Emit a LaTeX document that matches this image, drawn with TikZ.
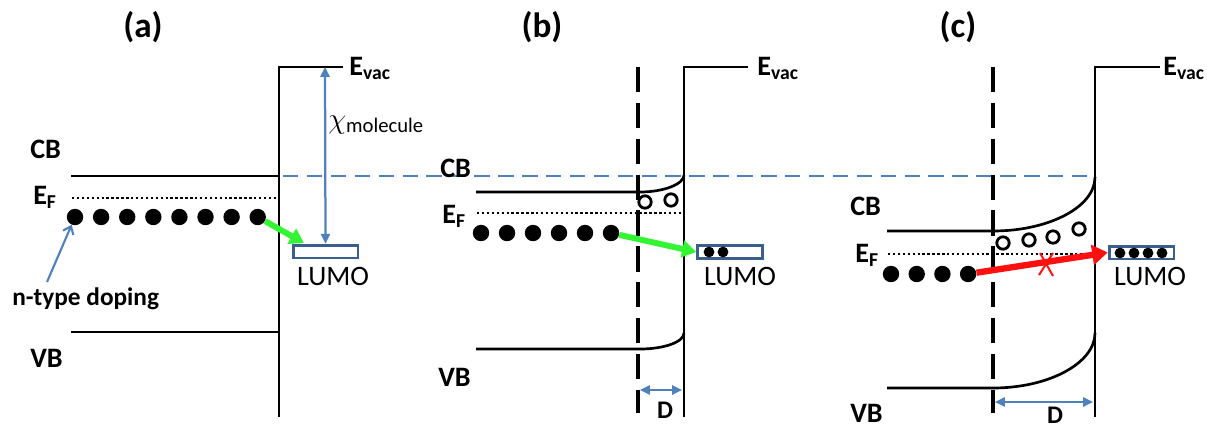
\documentclass[tikz,border=0pt]{standalone}
\usepackage{fontspec}
\setmainfont{Carlito}
\usepackage{tikz}
\usetikzlibrary{arrows.meta,positioning,calc}
\definecolor{BandBlue}{HTML}{4F81BD}
\definecolor{LumoBlue}{HTML}{3A5F8E}
\definecolor{HopGreen}{HTML}{33F533}
\definecolor{BlockRed}{HTML}{FF1010}

\begin{document}
\begin{tikzpicture}[x=0.025cm,y=-0.025cm,
    lbl/.style={font=\fontsize{20}{22}\selectfont\bfseries,inner sep=0pt,anchor=base west},
    ttl/.style={font=\fontsize{25}{28}\selectfont\bfseries,inner sep=0pt,anchor=base},
    lumotxt/.style={font=\fontsize{20}{22}\selectfont,inner sep=0pt,anchor=base},
    band/.style={line width=1.9pt},
    depl/.style={line width=2.3pt,dash pattern=on 18pt off 7.5pt},
    fermi/.style={line width=2pt,dash pattern=on 1.7pt off 1.8pt},
    elec/.style={circle,fill=black,minimum size=4.1mm,inner sep=0pt},
    lelec/.style={circle,fill=black,minimum size=2.7mm,inner sep=0pt},
    hole/.style={circle,draw,line width=2pt,minimum size=3.1mm,inner sep=0pt},
    lumo/.style={draw=LumoBlue,line width=2pt,fill=white,minimum width=16.2mm,minimum height=3.2mm,inner sep=0pt},
    blu/.style={BandBlue,line width=1.6pt,>={Triangle[length=7pt,width=6.5pt]},<->},
    hop/.style={HopGreen,line width=4.2pt,-{Triangle[length=10pt,width=12pt]}}]
    \useasboundingbox (0,0) rectangle (1207,429);
    \draw[BandBlue,line width=1.6pt,dash pattern=on 11pt off 6pt] (283,176) -- (1095,176);
    % (a)
    \node[ttl] (ta) at (143,37) {(a)};
    \draw[band] (279,417) -- (279,67) -- (343,67);
    \draw[band] (71,176) -- (279,176);
    \draw[band] (71,332) -- (279,332);
    \draw[fermi] (72,198) -- (277,198);
    \node[lbl] (evaca) at (349,75) {E\textsubscript{vac}};
    \node[lbl] (cba) at (30,158) {CB};
    \node[lbl] (efa) at (33,204) {E\textsubscript{F}};
    \node[lbl] (vba) at (30,367) {VB};
    \node[lbl,font=\fontsize{18}{20}\selectfont\bfseries] (ntype) at (12,305) {n-type doping};
    \foreach \i in {0,...,7}{\node[elec] (ea\i) at ({75+26.1*\i},217) {};}
    \node[lumo] (lumoa) at (325.5,251.5) {};
    \node[lumotxt] (lta) at (333,285) {LUMO};
    \node[inner sep=0pt,anchor=base west] (chi) at (328,128) {\fontsize{21}{22}\selectfont$\chi$\textsubscript{molecule}};
    \coordinate (vaca) at (325,67);
    \coordinate (ntail) at (47,282);
    \draw[blu] (vaca) -- (lumoa.north);
    \draw[BandBlue,line width=1.5pt,-{Straight Barb[length=5pt,width=8pt]}] (ntail) -- (ea0);
    \draw[hop,shorten >=1pt] (ea7) -- ($(lumoa.north west)!0.2!(lumoa.north east)$);
    % (b)
    \node[ttl] (tb) at (542,37) {(b)};
    \draw[depl] (638,67) -- (638,413);
    \draw[band] (684,417) -- (684,67) -- (748,67);
    \draw[band] (476,192) -- (640,192) .. controls (664,192) and (684,184) .. (684,175);
    \draw[band] (476,349) -- (640,349) .. controls (664,349) and (684,342) .. (684,333);
    \draw[fermi] (477,213) -- (683,213);
    \node[lbl] (evacb) at (757,75) {E\textsubscript{vac}};
    \node[lbl] (cbb) at (440,177) {CB};
    \node[lbl] (efb) at (442,223) {E\textsubscript{F}};
    \node[lbl] (vbb) at (438,386) {VB};
    \foreach \i in {0,...,5}{\node[elec] (eb\i) at ({481+26*\i},233) {};}
    \node[hole] (hb1) at (645,202) {};
    \node[hole] (hb2) at (671,200) {};
    \node[lumo] (lumob) at (730,252) {};
    \foreach \i in {0,1}{\node[lelec] (lb\i) at ({709+14*\i},252) {};}
    \node[lumotxt] (ltb) at (740,285) {LUMO};
    \draw[hop] (eb5) -- (lumob.west);
    \coordinate (db1) at (640,390);
    \coordinate (db2) at (682,390);
    \draw[blu] (db1) -- (db2);
    \node[lbl,anchor=base,font=\fontsize{18}{20}\selectfont\bfseries] (dlb) at (665,418) {D};
    % (c)
    \node[ttl] (tc) at (958,37) {(c)};
    \draw[depl] (993,67) -- (993,413);
    \draw[band] (1095,417) -- (1095,67) -- (1160,67);
    \draw[band] (887,231) -- (993,231) .. controls (1049,231) and (1095,207) .. (1095,177);
    \draw[band] (887,388) -- (993,388) .. controls (1049,388) and (1095,363) .. (1095,333);
    \draw[fermi] (888,254) -- (1093,254);
    \node[lbl] (evacc) at (1163,75) {E\textsubscript{vac}};
    \node[lbl] (cbc) at (850,215) {CB};
    \node[lbl] (efc) at (855,262) {E\textsubscript{F}};
    \node[lbl] (vbc) at (850,422) {VB};
    \foreach \i in {0,...,3}{\node[elec] (ec\i) at ({891+25.7*\i},274) {};}
    \foreach \x/\y [count=\i] in {1003/243,1029/240,1053/237,1079/229}{\node[hole] (hc\i) at (\x,\y) {};}
    \node[lumo] (lumoc) at (1141.5,252.5) {};
    \foreach \i in {0,...,3}{\node[lelec] (lc\i) at ({1120+14*\i},253) {};}
    \node[lumotxt] (ltc) at (1150,285) {LUMO};
    \draw[BlockRed,line width=4.5pt,-{Triangle[length=11pt,width=14pt]}] (ec3) -- (lumoc.west);
    \draw[BlockRed,line width=1.4pt] (1040,253) -- (1053,276) (1053,253) -- (1039,275);
    \coordinate (dc1) at (995,402);
    \coordinate (dc2) at (1093,402);
    \draw[blu] (dc1) -- (dc2);
    \node[lbl,anchor=base,font=\fontsize{18}{20}\selectfont\bfseries] (dlc) at (1055,423) {D};
\end{tikzpicture}
\end{document}
